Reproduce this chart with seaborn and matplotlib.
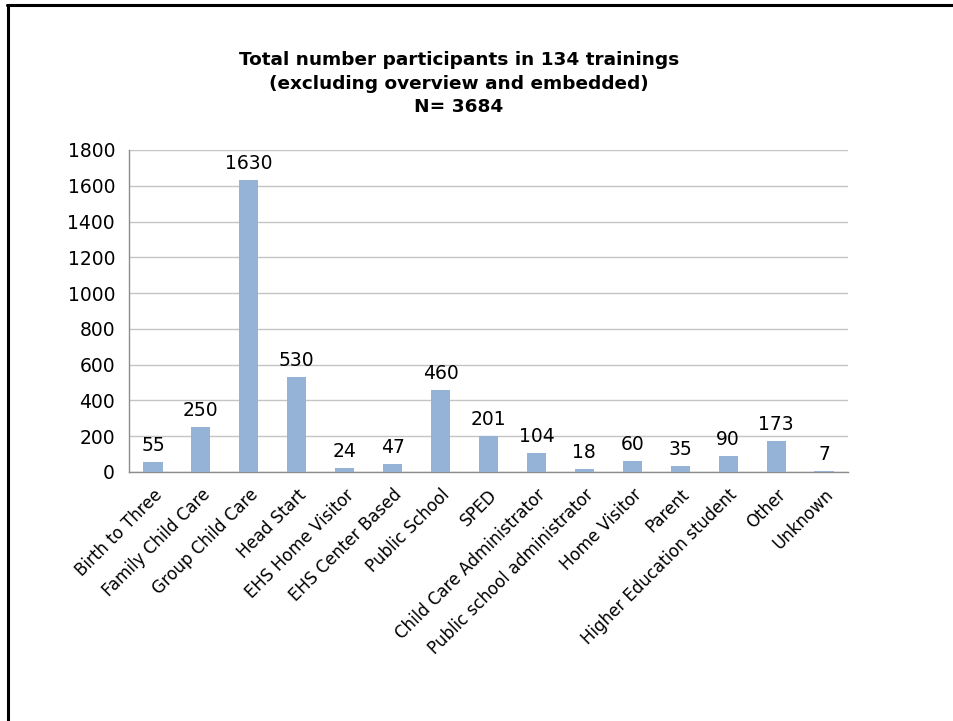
import matplotlib
matplotlib.use("Agg")
import matplotlib.pyplot as plt
from matplotlib.lines import Line2D
from matplotlib.ticker import MultipleLocator, FixedLocator
import seaborn as sns
import pandas as pd
import numpy as np

categories = [
    "Birth to Three", "Family Child Care", "Group Child Care", "Head Start",
    "EHS Home Visitor", "EHS Center Based", "Public School", "SPED",
    "Child Care Administrator", "Public school administrator", "Home Visitor",
    "Parent", "Higher Education student", "Other", "Unknown",
]
participants = [55, 250, 1630, 530, 24, 47, 460, 201, 104, 18, 60, 35, 90, 173, 7]
title_lines = [
    "Total number participants in 134 trainings",
    "(excluding overview and embedded)",
    "N= 3684",
]

sns.set_theme(style="white")
plt.rcParams["font.family"] = ["DejaVu Sans"]
plt.rcParams["text.color"] = "black"
plt.rcParams["xtick.color"] = "black"
plt.rcParams["ytick.color"] = "black"

df = pd.DataFrame({"category": categories, "participants": participants})

fig = plt.figure(figsize=(9.54, 7.21), dpi=100)
ax = fig.add_axes([0.1352, 0.3454, 0.7537, 0.4466])

sns.barplot(data=df, x="category", y="participants", color="#95B3D7",
            saturation=1, width=0.4, linewidth=0, edgecolor="none",
            ax=ax, zorder=3)

ax.set_ylim(0, 1800)
ax.set_xlim(-0.5, len(categories) - 0.5)
ax.yaxis.set_major_locator(MultipleLocator(200))
ax.grid(axis="y", color="#C4C4C4", linewidth=1.0, zorder=0)
ax.grid(axis="x", visible=False)
ax.set_xlabel("")
ax.set_ylabel("")

for side in ["top", "right"]:
    ax.spines[side].set_visible(False)
for side in ["left", "bottom"]:
    ax.spines[side].set_color("#8C8C8C")
    ax.spines[side].set_linewidth(1.0)

ax.tick_params(axis="y", length=0, labelsize=13.5, pad=10, labelcolor="black")
ax.set_xticks(range(len(categories)))
ax.set_xticklabels(categories, rotation=45, ha="right", rotation_mode="anchor",
                   fontsize=12, color="black")
ax.tick_params(axis="x", which="major", length=0, pad=10)
ax.xaxis.set_minor_locator(FixedLocator(np.arange(-0.5, len(categories), 1.0)))
ax.tick_params(axis="x", which="minor", length=6, width=1.0, color="#8C8C8C",
               direction="out")

for i, v in enumerate(participants):
    ax.annotate(str(v), xy=(i, v), xytext=(0, 5), textcoords="offset points",
                ha="center", va="bottom", fontsize=13.5, color="black")

ys = [0.917, 0.883, 0.852]
for text, y in zip(title_lines, ys):
    fig.text(0.481, y, text, ha="center", va="center", fontsize=13.3,
             fontweight="bold", color="black", family=["DejaVu Sans"])

# slide frame
fig.add_artist(Line2D([0.0075, 1.0], [1 - 5 / 721, 1 - 5 / 721],
                      transform=fig.transFigure, color="black", linewidth=2.2))
fig.add_artist(Line2D([8 / 954, 8 / 954], [0.0, 1 - 5 / 721],
                      transform=fig.transFigure, color="black", linewidth=2.2))

fig.savefig("out.png", dpi=100)
